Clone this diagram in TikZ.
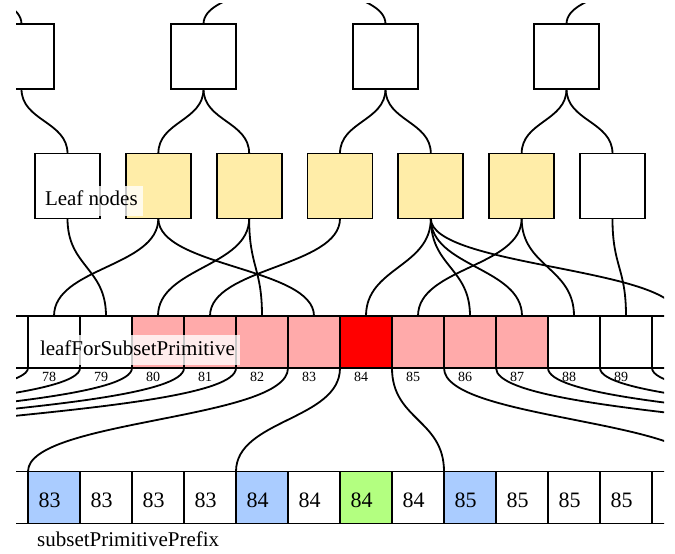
\documentclass[tikz,border=0pt]{standalone}
\usepackage{fontspec}
\setmainfont{Liberation Serif}
\definecolor{leafyellow}{HTML}{FFEDA8}
\definecolor{lightred}{HTML}{FFAAAA}
\definecolor{hotred}{HTML}{FF0000}
\definecolor{lightblue}{HTML}{AACCFF}
\definecolor{lightgreen}{HTML}{B3FF80}
\begin{document}
\begin{tikzpicture}[x=1bp,y=-1bp,
  treebox/.style={draw, line width=1.8bp, minimum width=65bp, minimum height=65bp, inner sep=0pt, outer sep=0pt},
  arrcell/.style={draw, line width=1.8bp, minimum width=52bp, minimum height=52bp, inner sep=0pt, outer sep=0pt},
  link/.style={line width=1.8bp},
  idx/.style={inner sep=0pt, anchor=base, font=\fontsize{14bp}{16bp}\selectfont},
  val/.style={inner sep=0pt, anchor=base, font=\fontsize{22bp}{26bp}\selectfont},
  lab/.style={anchor=base west, fill=white, fill opacity=0.78, text opacity=1, inner xsep=5bp, inner ysep=5bp, text height=15bp, text depth=5bp, outer sep=0pt, font=\fontsize{21bp}{25bp}\selectfont}
]
\useasboundingbox (0,0) rectangle (675,554);
\begin{scope}
\clip (16,4) rectangle (664,554);
% hidden parents (above the picture)
\coordinate (A0) at (-69.3,-40.5);
\coordinate (A1) at (294,-40.5);
\coordinate (A2) at (657.3,-40.5);
% level B boxes
\foreach \m/\cx in {1/21.5,2/203.5,3/385.5,4/566.5}
  \node[treebox] (B\m) at (\cx,56.5) {};
% leaves
\foreach \k/\fc in {1/white,2/leafyellow,3/leafyellow,4/leafyellow,5/leafyellow,6/leafyellow,7/white}
  \node[treebox, fill=\fc] (L\k) at ({67.5+90.83*(\k-1)},186) {};
% middle array
\foreach \j/\fc in {-1/white,0/white,1/white,2/lightred,3/lightred,4/lightred,5/lightred,6/hotred,7/lightred,8/lightred,9/lightred,10/white,11/white,12/white}
  \node[arrcell, fill=\fc] (M\j) at ({54+52*\j},342) {};
\foreach \j in {0,...,11}
  \pgfmathtruncatemacro{\num}{78+\j}
  \node[idx] (N\j) at ({49+52*\j},381) {\num};
% bottom array
\foreach \j/\fc/\v in {-1/white/{},0/lightblue/83,1/white/83,2/white/83,3/white/83,4/lightblue/84,5/white/84,6/lightgreen/84,7/white/84,8/lightblue/85,9/white/85,10/white/85,11/white/85,12/white/{}}
  \node[arrcell, fill=\fc, minimum height=52bp] (P\j) at ({54+52*\j},497.5) {};
\foreach \j/\v in {0/83,1/83,2/83,3/83,4/84,5/84,6/84,7/84,8/85,9/85,10/85,11/85}
  \node[val] (V\j) at ({49.5+52*\j},507) {\v};
% off-picture targets in the bottom array
\foreach \k in {-16,-12,-10,-8,-6,13,18,21,24,26}
  \coordinate (Q\k) at ({28+52*\k},471.5);
% tree links
\foreach \a/\b in {A0/B1,A1/B2,A1/B3,A2/B4}
  \draw[link] (\a) .. controls +(0,32) and +(0,-32) .. (\b.north);
\foreach \a/\b in {B1/L1,B2/L2,B2/L3,B3/L4,B3/L5,B4/L6,B4/L7}
  \draw[link] (\a.south) .. controls +(0,32) and +(0,-32) .. (\b.north);
% leaf -> leafForSubsetPrimitive
\foreach \a/\b in {L1/M1,L2/M0,L2/M5,L3/M2,L3/M4,L4/M3,L5/M6,L5/M8,L5/M9,L5/M12,L6/M7,L6/M10,L7/M11}
  \draw[link] (\a.south) .. controls +(0,48.5) and +(0,-48.5) .. (\b.north);
% leafForSubsetPrimitive -> subsetPrimitivePrefix
\foreach \a/\b in {M0/Q-16,M1/Q-12,M2/Q-10,M3/Q-8,M4/Q-6,M8/Q13,M9/Q18,M10/Q21,M11/Q24,M12/Q26}
  \draw[link] (\a.south west) .. controls +(0,52) and +(0,-52) .. (\b);
\foreach \a/\b in {M5/P0,M6/P4,M7/P8}
  \draw[link] (\a.south west) .. controls +(0,52) and +(0,-52) .. (\b.north west);
\end{scope}
% labels
\node[lab] (leaflabel) at (40,206) {Leaf nodes};
\node[lab] (arrlabel) at (35,355) {leafForSubsetPrimitive};
\node[anchor=base west, inner sep=0pt, font=\fontsize{21bp}{25bp}\selectfont] (prefixlabel) at (37,546) {subsetPrimitivePrefix};
\end{tikzpicture}
\end{document}
